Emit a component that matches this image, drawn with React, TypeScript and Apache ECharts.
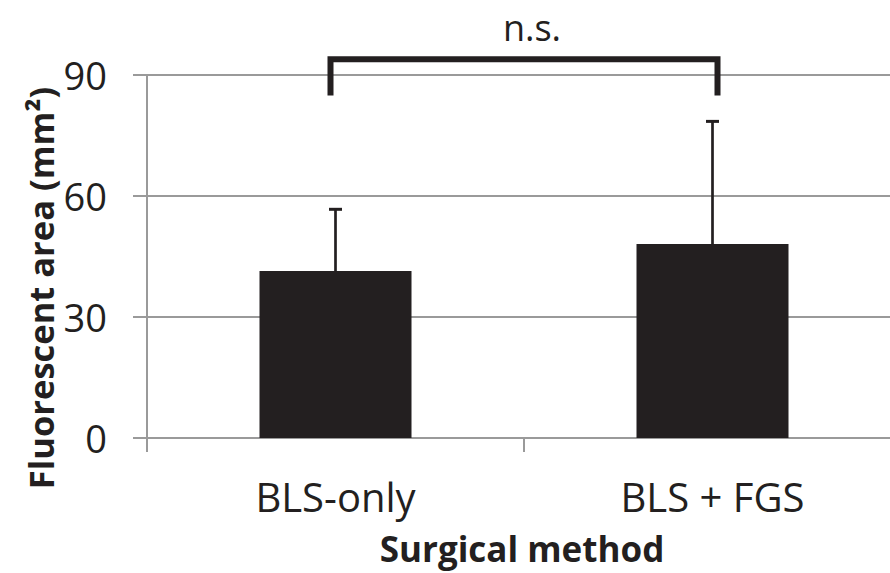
import React, { useEffect, useRef } from "react";
import * as echarts from "echarts";

const categories = ["BLS-only", "BLS + FGS"];
const means = [41.4, 48.1];
const upperErrors = [56.7, 78.5];
const yTicks = { min: 0, max: 90, interval: 30 };
const significanceLabel = "n.s.";
const bracketValues = { top: 93.9, bottom: 84.9 };

const INK = "#231f20";
const GRAY = "#9a9a9a";
const FONT = "'Open Sans', sans-serif";

export default function App() {
  const ref = useRef<HTMLDivElement>(null);
  useEffect(() => {
    if (!ref.current) return;
    const chart = echarts.init(ref.current, undefined, { renderer: "svg" });
    const errData = categories.map((_, i) => [i, means[i], upperErrors[i]]);
    chart.setOption({
      animation: false,
      grid: { left: 147, right: 0, top: 75, bottom: 135, containLabel: false },
      xAxis: {
        type: "category",
        data: categories,
        axisLine: { lineStyle: { color: GRAY, width: 2 } },
        axisTick: { show: true, length: 14, lineStyle: { color: GRAY, width: 2 } },
        axisLabel: { color: INK, fontSize: 40, fontFamily: FONT, margin: 38 },
        splitLine: { show: false },
      },
      yAxis: {
        type: "value",
        min: yTicks.min,
        max: yTicks.max,
        interval: yTicks.interval,
        axisLine: { show: true, lineStyle: { color: GRAY, width: 2 } },
        axisTick: { show: true, length: 14, lineStyle: { color: GRAY, width: 2 } },
        axisLabel: { color: INK, fontSize: 38, fontFamily: FONT, margin: 40 },
        splitLine: { show: true, lineStyle: { color: GRAY, width: 2 } },
      },
      series: [
        {
          type: "bar",
          data: means,
          barWidth: 152,
          itemStyle: { color: INK },
          z: 2,
        },
        {
          type: "custom",
          data: errData,
          encode: { x: 0, y: [1, 2] },
          z: 3,
          renderItem: (params: any, api: any) => {
            const x = api.value(0);
            const lo = api.coord([x, api.value(1)]);
            const hi = api.coord([x, api.value(2)]);
            const hw = 6.5;
            return {
              type: "group",
              children: [
                {
                  type: "line",
                  shape: { x1: lo[0], y1: lo[1], x2: hi[0], y2: hi[1] },
                  style: { stroke: INK, lineWidth: 2.7 },
                },
                {
                  type: "line",
                  shape: { x1: hi[0] - hw, y1: hi[1], x2: hi[0] + hw, y2: hi[1] },
                  style: { stroke: INK, lineWidth: 3 },
                },
              ],
            };
          },
        },
      ],
    });

    const p0 = chart.convertToPixel({ gridIndex: 0 }, [0, bracketValues.top]) as number[];
    const p1 = chart.convertToPixel({ gridIndex: 0 }, [1, bracketValues.bottom]) as number[];
    const yTop = p0[1];
    const yBot = p1[1];
    const xL = p0[0] - 5;
    const xR = p1[0] + 5;

    chart.setOption({
      graphic: [
        {
          type: "polyline",
          shape: { points: [[xL, yBot], [xL, yTop], [xR, yTop], [xR, yBot]] },
          style: { stroke: INK, lineWidth: 6, fill: "none", lineJoin: "miter" },
          z: 10,
        },
        {
          type: "text",
          x: 532,
          y: 27,
          style: {
            text: significanceLabel,
            fill: INK,
            font: `36px ${FONT}`,
            align: "center",
            verticalAlign: "middle",
          },
        },
        {
          type: "text",
          x: 40,
          y: 288,
          rotation: Math.PI / 2,
          style: {
            text: "Fluorescent area (mm²)",
            fill: INK,
            font: `bold 34.5px ${FONT}`,
            align: "center",
            verticalAlign: "middle",
          },
        },
        {
          type: "text",
          x: 522,
          y: 548,
          style: {
            text: "Surgical method",
            fill: INK,
            font: `bold 35px ${FONT}`,
            align: "center",
            verticalAlign: "middle",
          },
        },
      ],
    });

    return () => chart.dispose();
  }, []);
  return (
    <div style={{ width: 890, height: 573, position: "absolute", left: 0, top: 0, overflow: "hidden" }}>
      <div ref={ref} style={{ width: 901, height: 573 }} />
    </div>
  );
}
